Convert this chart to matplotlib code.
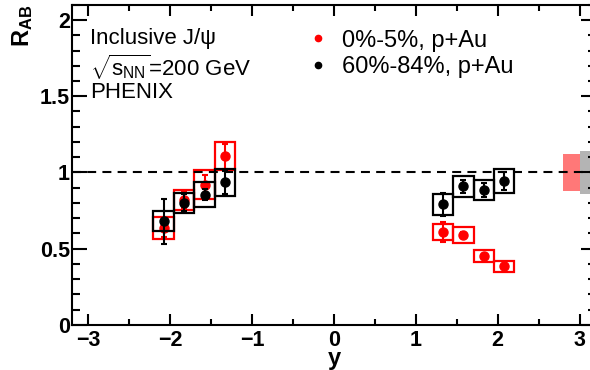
import matplotlib
matplotlib.use('Agg')
import matplotlib.pyplot as plt
from matplotlib.ticker import MultipleLocator, FormatStrFormatter
from matplotlib.lines import Line2D

plt.rcParams['font.family'] = ['Liberation Sans', 'DejaVu Sans']
plt.rcParams['mathtext.fontset'] = 'custom'
plt.rcParams['mathtext.rm'] = 'Liberation Sans'
plt.rcParams['mathtext.it'] = 'Liberation Sans:italic'
plt.rcParams['mathtext.bf'] = 'Liberation Sans:bold'

# rapidity bin centres
y_bwd = [-2.08, -1.83, -1.58, -1.33]
y_fwd = [1.33, 1.58, 1.83, 2.08]
box_w = 0.25

# 0%-5% (red)
cen_bwd = [0.635, 0.82, 0.92, 1.105]
cen_bwd_stat = [0.06, 0.05, 0.063, 0.08]
cen_bwd_sys = [0.07, 0.065, 0.095, 0.092]
cen_fwd = [0.61, 0.59, 0.45, 0.383]
cen_fwd_stat = [0.065, 0.02, 0.015, 0.01]
cen_fwd_sys = [0.054, 0.05, 0.038, 0.035]

# 60%-84% (black)
per_bwd = [0.68, 0.80, 0.855, 0.935]
per_bwd_stat = [0.147, 0.056, 0.035, 0.075]
per_bwd_sys = [0.066, 0.065, 0.082, 0.09]
per_fwd = [0.79, 0.91, 0.885, 0.945]
per_fwd_stat = [0.077, 0.043, 0.045, 0.06]
per_fwd_sys = [0.071, 0.07, 0.068, 0.078]

# global uncertainties
glob_cen = 0.12
glob_per = 0.14

fig = plt.figure(figsize=(5.9, 3.7), dpi=100)
ax = fig.add_axes([0.122, 0.122, 0.888, 0.865])

# global boxes at y=1
ax.bar(2.9, 2 * glob_cen, width=0.2, bottom=1 - glob_cen, color='#ff7878', zorder=1)
ax.bar(3.1, 2 * glob_per, width=0.2, bottom=1 - glob_per, color='#b4b4b4', zorder=1)

for xs, vals, stat, sys_, col, z in [
        (y_bwd, cen_bwd, cen_bwd_stat, cen_bwd_sys, 'red', 2),
        (y_fwd, cen_fwd, cen_fwd_stat, cen_fwd_sys, 'red', 2),
        (y_bwd, per_bwd, per_bwd_stat, per_bwd_sys, 'black', 4),
        (y_fwd, per_fwd, per_fwd_stat, per_fwd_sys, 'black', 4)]:
    ax.bar(xs, [2 * s for s in sys_], width=box_w,
           bottom=[v - s for v, s in zip(vals, sys_)],
           fill=False, edgecolor=col, linewidth=1.6, zorder=z)
    ax.errorbar(xs, vals, yerr=stat, fmt='o', color=col, ms=6.5,
                elinewidth=1.5, capsize=2.5, capthick=1.5, zorder=z + 1)

ax.axhline(1, color='black', ls=(0, (4.3, 3)), lw=1.5, zorder=6)

ax.set_xlim(-3.2, 3.2)
ax.set_ylim(0, 2.1)
ax.xaxis.set_major_locator(MultipleLocator(1))
ax.xaxis.set_minor_locator(MultipleLocator(0.5))
ax.yaxis.set_major_locator(MultipleLocator(0.5))
ax.yaxis.set_minor_locator(MultipleLocator(0.1))
ax.yaxis.set_major_formatter(FormatStrFormatter('%g'))

ax.tick_params(axis='both', which='both', direction='in', top=True, right=True, width=1.5)
ax.tick_params(axis='y', which='major', length=11, pad=1.5)
ax.tick_params(axis='y', which='minor', length=5.5)
ax.tick_params(axis='x', which='major', length=8, pad=4)
ax.tick_params(axis='x', which='minor', length=4.5)
for lab in ax.get_xticklabels() + ax.get_yticklabels():
    lab.set_fontsize(15.5)
    lab.set_fontweight('bold')
for sp in ax.spines.values():
    sp.set_linewidth(1.5)

ax.text(-0.095, 1.0, r'$\mathbf{R}_{\mathbf{AB}}$', transform=ax.transAxes,
        rotation=90, ha='center', va='top', fontsize=17)
ax.set_xlabel('y', fontsize=17, fontweight='bold')
ax.xaxis.set_label_coords(0.5, -0.068)

ax.text(0.034, 0.894, 'Inclusive J/ψ', transform=ax.transAxes, fontsize=16, va='center')
ax.text(0.034, 0.806, r'$\sqrt{\mathrm{s}_{\mathrm{NN}}}$=200 GeV', transform=ax.transAxes,
        fontsize=16, va='center')
ax.text(0.034, 0.727, 'PHENIX', transform=ax.transAxes, fontsize=16, va='center')

handles = [Line2D([], [], marker='o', color='red', ls='none', ms=4.5),
           Line2D([], [], marker='o', color='black', ls='none', ms=4.5)]
ax.legend(handles, ['0%-5%, p+Au', '60%-84%, p+Au'], loc='upper left',
          bbox_to_anchor=(0.447, 0.9225), frameon=False, fontsize=17,
          handlelength=1, handletextpad=0.5, borderpad=0, borderaxespad=0,
          labelspacing=0.19)

fig.savefig('out.png', dpi=100)
